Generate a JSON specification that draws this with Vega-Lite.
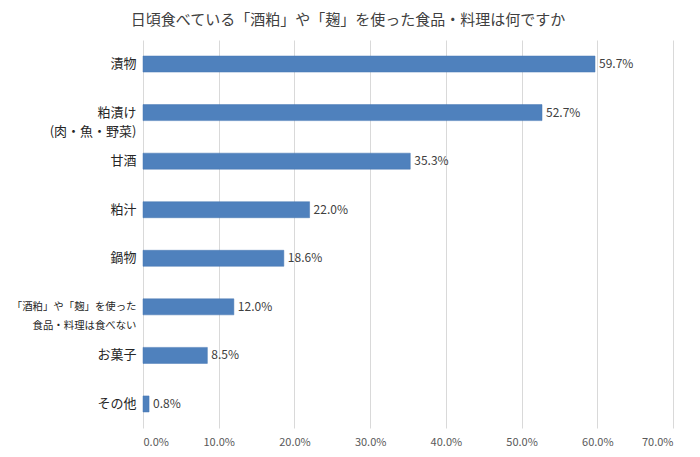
{
  "$schema": "https://vega.github.io/schema/vega-lite/v6.json",
  "autosize": {"type": "none"},
  "width": 530,
  "height": 388,
  "padding": {"left": 143, "top": 40, "right": 27, "bottom": 29},
  "background": "white",
  "title": {
    "text": "日頃食べている「酒粕」や「麹」を使った食品・料理は何ですか",
    "font": "Noto Sans CJK JP",
    "fontSize": 15,
    "fontWeight": "normal",
    "color": "#404040",
    "anchor": "middle",
    "dx": -60,
    "offset": 12
  },
  "config": {
    "view": {"stroke": null},
    "font": "Noto Sans CJK JP"
  },
  "data": {
    "values": [
      {"item": "漬物", "value": 0.597},
      {"item": "粕漬け|(肉・魚・野菜)", "value": 0.527},
      {"item": "甘酒", "value": 0.353},
      {"item": "粕汁", "value": 0.220},
      {"item": "鍋物", "value": 0.186},
      {"item": "「酒粕」や「麹」を使った|食品・料理は食べない", "value": 0.120},
      {"item": "お菓子", "value": 0.085},
      {"item": "その他", "value": 0.008}
    ]
  },
  "encoding": {
    "y": {
      "field": "item",
      "type": "nominal",
      "sort": null,
      "scale": {"paddingInner": 0.67, "paddingOuter": 0.33},
      "axis": {
        "title": null,
        "domain": false,
        "ticks": false,
        "labelExpr": "split(datum.label, '|')",
        "labelFont": "Noto Sans CJK JP",
        "labelFontSize": {"condition": {"test": "indexof(datum.label, '麹') >= 0", "value": 10.4}, "value": 13},
        "labelColor": "#262626",
        "labelPadding": 7,
        "labelLineHeight": 19,
        "labelLimit": 200
      }
    },
    "x": {
      "field": "value",
      "type": "quantitative",
      "scale": {"domain": [0, 0.7], "nice": false},
      "axis": {
        "title": null,
        "format": ".1%",
        "values": [0, 0.1, 0.2, 0.3, 0.4, 0.5, 0.6, 0.7],
        "domain": false,
        "ticks": false,
        "grid": true,
        "gridColor": "#d9d9d9",
        "gridWidth": 1,
        "labelFont": "Noto Sans CJK JP",
        "labelFontSize": 11,
        "labelColor": "#595959",
        "labelPadding": 8
      }
    }
  },
  "layer": [
    {
      "mark": {"type": "bar", "color": "#4f81bd", "stroke": "#4677b2", "strokeWidth": 0.5}
    },
    {
      "mark": {"type": "text", "align": "left", "baseline": "middle", "dx": 4, "fontSize": 12, "color": "#404040", "font": "Noto Sans CJK JP"},
      "encoding": {
        "text": {"field": "value", "type": "quantitative", "format": ".1%"}
      }
    }
  ]
}
